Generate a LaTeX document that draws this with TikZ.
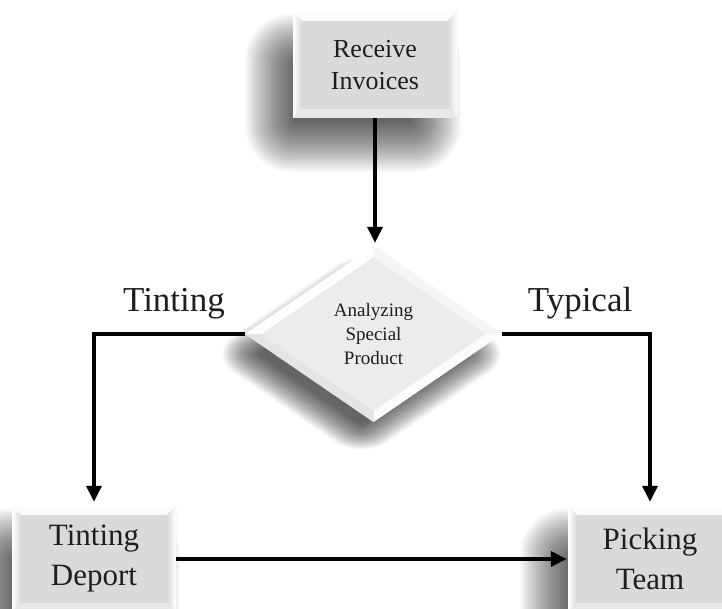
\documentclass[tikz,border=0pt]{standalone}
\usepackage{fontspec}
\setmainfont{Liberation Serif}
\usetikzlibrary{arrows.meta,shapes.geometric,calc}
\definecolor{face}{HTML}{DADADA}
\definecolor{dface}{HTML}{ECECEC}
\definecolor{ink}{HTML}{1E1E1E}
\pgfdeclarelayer{bg}
\pgfdeclarelayer{shadowlayer}
\pgfsetlayers{bg,shadowlayer,main}
\tikzset{
  shadowpiece/.style={fill=black, opacity=0.018},
  bevelbox/.style={rectangle, fill=face, minimum width=164pt, minimum height=106pt,
    inner sep=0pt, align=center, text=ink,
    path picture={
      \coordinate (bnw) at (path picture bounding box.north west);
      \coordinate (bne) at (path picture bounding box.north east);
      \coordinate (bsw) at (path picture bounding box.south west);
      \coordinate (bse) at (path picture bounding box.south east);
      \fill[left color=white, right color=face]
        (bnw) -- (bsw) -- ([xshift=9pt,yshift=9pt]bsw) -- ([xshift=9pt,yshift=-9pt]bnw) -- cycle;
      \fill[white!92!face]
        (bnw) -- (bne) -- ([xshift=-9pt,yshift=-9pt]bne) -- ([xshift=9pt,yshift=-9pt]bnw) -- cycle;
      \fill[left color=face, right color=white]
        (bne) -- (bse) -- ([xshift=-9pt,yshift=9pt]bse) -- ([xshift=-9pt,yshift=-9pt]bne) -- cycle;
      \fill[white!40!face]
        (bsw) -- (bse) -- ([xshift=-9pt,yshift=9pt]bse) -- ([xshift=9pt,yshift=9pt]bsw) -- cycle;
    }},
  decision/.style={diamond, fill=dface, minimum width=257pt, minimum height=176pt,
    inner sep=0pt, align=center, text=ink,
    font=\fontsize{19}{24}\selectfont,
    path picture={
      \coordinate (dN) at (path picture bounding box.north);
      \coordinate (dE) at (path picture bounding box.east);
      \coordinate (dS) at (path picture bounding box.south);
      \coordinate (dW) at (path picture bounding box.west);
      \fill[white] (dW) -- (dN) -- ([yshift=-11pt]dN) -- ([xshift=16pt]dW) -- cycle;
      \fill[white!50!dface] (dN) -- (dE) -- ([xshift=-16pt]dE) -- ([yshift=-11pt]dN) -- cycle;
      \fill[white!85!dface] (dE) -- (dS) -- ([yshift=11pt]dS) -- ([xshift=-16pt]dE) -- cycle;
      \fill[white!30!face] (dS) -- (dW) -- ([xshift=16pt]dW) -- ([yshift=11pt]dS) -- cycle;
    }},
  conn/.style={line width=3.5pt, draw=black, -{Triangle[width=15pt,length=16pt]}},
  branchlabel/.style={anchor=base, text=ink, font=\fontsize{35}{40}\selectfont, inner sep=0pt},
}
% soft shadow behind a rectangular node: offset (-22,-28), spread 26
\newcommand\myrectshadow[1]{%
  \foreach \i in {0,...,39}{%
    \pgfmathsetmacro\e{26-1.3*\i}%
    \pgfmathsetmacro\rc{max(1,0.9*(\e+26))}%
    \pgfmathsetmacro\xa{-22-\e}\pgfmathsetmacro\ya{-28+\e}%
    \pgfmathsetmacro\xb{-22+\e}\pgfmathsetmacro\yb{-28-\e}%
    \fill[shadowpiece, rounded corners=\rc pt] ([xshift=\xa pt,yshift=\ya pt]#1.north west)
      rectangle ([xshift=\xb pt,yshift=\yb pt]#1.south east);
  }}
\newcommand\mydiashadow[1]{%
  \foreach \i in {0,...,39}{%
    \pgfmathsetmacro\e{18-0.9*\i}%
    \pgfmathsetmacro\h{1.46*\e}%
    \pgfmathsetmacro\rc{max(1,0.9*(\e+18))}%
    \fill[shadowpiece, rounded corners=\rc pt]
      ([xshift=-12pt,yshift=-20pt+\e pt]#1.north) --
      ([xshift=-12pt+\h pt,yshift=-20pt]#1.east) --
      ([xshift=-12pt,yshift=-20pt-\e pt]#1.south) --
      ([xshift=-12pt-\h pt,yshift=-20pt]#1.west) -- cycle;
  }}
\begin{document}
\begin{tikzpicture}[x=1pt, y=-1pt]
  \useasboundingbox (0,0) rectangle (722,609);
  \clip (0,0) rectangle (722,609);

  \node[bevelbox, font=\fontsize{26}{32}\selectfont] (recv) at (375,65) {Receive\\Invoices};
  \node[decision] (dec) at (373.5,334) {Analyzing\\Special\\Product};
  \node[bevelbox, font=\fontsize{31}{40}\selectfont] (tint) at (94,559) {Tinting\\Deport};
  \node[bevelbox, font=\fontsize{31}{40}\selectfont] (pick) at (650,559) {Picking\\Team};

  \node[branchlabel] (ltint) at (174,312) {Tinting};
  \node[branchlabel] (ltyp) at (580,312) {Typical};

  \draw[conn, shorten >=3pt] (recv.south) -- (recv.south |- dec.north);
  \draw[conn, shorten >=4pt] (dec.west) -| (tint.north);
  \draw[conn, shorten >=4pt] (dec.east) -| (pick.north);
  \draw[conn, shorten >=1pt] (tint.east) -- (pick.west);

  \begin{pgfonlayer}{shadowlayer}
    \myrectshadow{recv}
    \myrectshadow{tint}
    \myrectshadow{pick}
    \mydiashadow{dec}
  \end{pgfonlayer}
  \begin{pgfonlayer}{bg}
    \fill[white] (0,0) rectangle (722,609);
  \end{pgfonlayer}
\end{tikzpicture}
\end{document}
